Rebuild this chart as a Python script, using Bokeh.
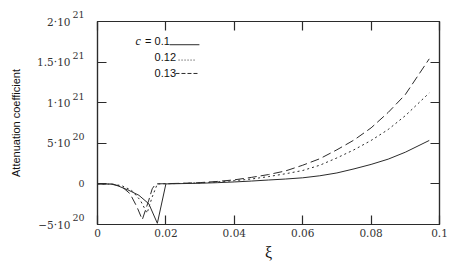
from bokeh.plotting import figure
from bokeh.models import Range1d, FixedTicker, LinearAxis
from bokeh.core.properties import value
from bokeh.embed import file_html
from bokeh.resources import INLINE

# ---- data (values in units of 1e20) ----
xi_c010 = [0.0, 0.0045, 0.0062, 0.0092, 0.0121, 0.0150, 0.0175, 0.0200, 0.025, 0.030, 0.035,
           0.040, 0.045, 0.050, 0.055, 0.060, 0.065, 0.070, 0.075, 0.080, 0.085, 0.090, 0.097]
att_c010 = [0.0, -0.02, -0.28, -0.8, -1.4, -2.45, -4.85, 0.0, 0.04, 0.08, 0.15,
            0.24, 0.35, 0.48, 0.6, 0.75, 1.0, 1.35, 1.85, 2.4, 3.05, 3.9, 5.35]

xi_c012 = [0.0, 0.004, 0.007, 0.010, 0.0125, 0.0145, 0.0160, 0.0175, 0.020, 0.025, 0.030, 0.035,
           0.040, 0.045, 0.050, 0.055, 0.060, 0.065, 0.070, 0.075, 0.080, 0.085, 0.090, 0.097]
att_c012 = [0.0, -0.03, -0.2, -0.8, -2.0, -3.6, -1.6, 0.0, 0.02, 0.06, 0.13, 0.25,
            0.4, 0.6, 0.9, 1.25, 1.65, 2.3, 3.2, 4.2, 5.35, 6.7, 8.4, 11.2]

xi_c013 = [0.0, 0.004, 0.007, 0.0095, 0.0115, 0.0131, 0.0150, 0.0160, 0.0170, 0.020, 0.025, 0.030, 0.035,
           0.040, 0.045, 0.050, 0.055, 0.060, 0.065, 0.070, 0.075, 0.080, 0.085, 0.090, 0.097]
att_c013 = [0.0, -0.03, -0.3, -1.2, -2.8, -4.4, -2.0, -0.6, 0.0, 0.03, 0.08, 0.16, 0.3,
            0.5, 0.8, 1.15, 1.6, 2.3, 3.1, 4.2, 5.4, 6.9, 8.8, 11.0, 15.4]

scale = 1e20
x_ticks = [0, 0.02, 0.04, 0.06, 0.08, 0.1]
x_tick_labels = ["0", "0.02", "0.04", "0.06", "0.08", "0.1"]
y_ticks = [-5e20, 0, 5e20, 1e21, 1.5e21, 2e21]
y_tick_bases = ["\u22125\u00b710", "", "5\u00b710", "1\u00b710", "1.5\u00b710", "2\u00b710"]
y_tick_exps = ["20", "0", "20", "21", "21", "21"]
legend_labels = ["0.1", "0.12", "0.13"]

ink = "#2b2b2b"
tick_font = "DejaVu Serif"
tick_color = "#333333"

p = figure(width=460, height=267, output_backend="svg", toolbar_location=None,
           x_range=Range1d(0, 0.1), y_range=Range1d(-5e20, 2e21),
           min_border_left=97, min_border_right=21, min_border_top=21, min_border_bottom=43)
p.grid.visible = False
p.outline_line_color = ink
p.outline_line_width = 1.2
p.background_fill_color = "white"
p.border_fill_color = "white"


def frame_axis(ax):
    ax.major_tick_in = 9
    ax.major_tick_out = 0
    ax.minor_tick_line_color = None
    ax.axis_line_color = ink
    ax.axis_line_width = 1.2
    ax.major_tick_line_color = ink
    ax.major_tick_line_width = 1.2


for ax in (p.xaxis[0], p.yaxis[0]):
    frame_axis(ax)
    ax.major_label_text_font = tick_font
    ax.major_label_text_color = tick_color

p.xaxis[0].ticker = FixedTicker(ticks=x_ticks)
p.xaxis[0].major_label_overrides = dict(zip(x_ticks, x_tick_labels))
p.xaxis[0].major_label_text_font_size = "10.5px"
p.xaxis[0].major_label_standoff = 4
p.xaxis[0].axis_label = "\u03be"
p.xaxis[0].axis_label_text_font = "Liberation Serif"
p.xaxis[0].axis_label_text_font_style = "normal"
p.xaxis[0].axis_label_text_font_size = "16px"
p.xaxis[0].axis_label_text_color = "#111111"
p.xaxis[0].axis_label_standoff = 4

# inner left axis: exponents (raised) and the lone "0"
p.yaxis[0].ticker = FixedTicker(ticks=y_ticks)
p.yaxis[0].major_label_overrides = {t: (e + "\n" if e != "0" else e)
                                    for t, e in zip(y_ticks, y_tick_exps)}
p.yaxis[0].major_label_text_font_size = "9.5px"
p.yaxis[0].major_label_standoff = 13

# outer left axis: mantissa part "a·10"
base_axis = LinearAxis(ticker=FixedTicker(ticks=y_ticks),
                       major_label_overrides=dict(zip(y_ticks, y_tick_bases)))
base_axis.axis_line_color = None
base_axis.major_tick_line_color = None
base_axis.minor_tick_line_color = None
base_axis.major_tick_in = 0
base_axis.major_tick_out = 0
base_axis.major_label_standoff = -1
base_axis.major_label_text_font = tick_font
base_axis.major_label_text_font_size = "10.5px"
base_axis.major_label_text_color = tick_color
base_axis.axis_label = "Attenuation coefficient"
base_axis.axis_label_text_font = "Liberation Sans"
base_axis.axis_label_text_font_style = "normal"
base_axis.axis_label_text_font_size = "11px"
base_axis.axis_label_text_color = "#111111"
base_axis.axis_label_standoff = 12
p.add_layout(base_axis, "left")

# mirror ticks on top and right (no labels)
top = LinearAxis(ticker=FixedTicker(ticks=x_ticks), major_label_overrides={t: "" for t in x_ticks})
right = LinearAxis(ticker=FixedTicker(ticks=y_ticks), major_label_overrides={t: "" for t in y_ticks})
for ax in (top, right):
    frame_axis(ax)
    ax.major_label_text_font_size = "1px"
    ax.major_label_standoff = 0
p.add_layout(top, "above")
p.add_layout(right, "right")

# curves
p.line(xi_c010, [v * scale for v in att_c010], line_color=ink, line_width=1)
p.line(xi_c012, [v * scale for v in att_c012], line_color=ink, line_width=1, line_dash="2 3")
p.line(xi_c013, [v * scale for v in att_c013], line_color=ink, line_width=1, line_dash="9 4")

# legend (hand-drawn, as in the original)
leg_font = "Liberation Sans"
row_y = [1.754e21, 1.56e21, 1.363e21]
p.text(x=[0.0111], y=[row_y[0]], text=["c"], text_font=value("Liberation Serif"),
       text_font_style="italic", text_font_size="12px", text_baseline="middle", text_color="#111111")
p.text(x=[0.0139], y=[row_y[0]], text=["="], text_font=value(leg_font),
       text_font_size="11px", text_baseline="middle", text_color="#111111")
p.text(x=[0.0167] * 3, y=row_y, text=legend_labels, text_font=value(leg_font),
       text_font_size="11px", text_baseline="middle", text_color="#111111")
p.line([0.0211, 0.0298], [1.714e21, 1.714e21], line_color=ink, line_width=1)
p.line([0.0237, 0.0287], [1.525e21, 1.525e21], line_color=ink, line_width=1, line_dash="1 2")
p.line([0.0228, 0.0295], [1.36e21, 1.36e21], line_color=ink, line_width=1, line_dash="4 2")

open("out.html", "w").write(file_html(p, INLINE))
